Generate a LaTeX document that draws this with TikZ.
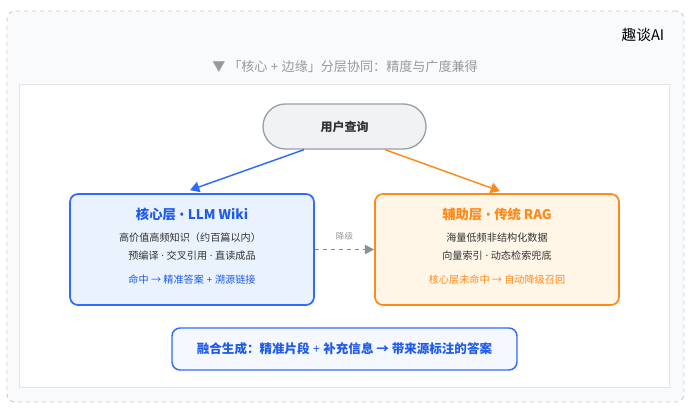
\documentclass[tikz,border=0pt]{standalone}
\usepackage{fontspec}
\setmainfont{Noto Sans CJK SC}
\newfontfamily\lat{Noto Sans}
\usetikzlibrary{arrows.meta,calc}
\definecolor{cblue}{HTML}{2F6BFF}
\definecolor{cbluet}{HTML}{1E5BEB}
\definecolor{corange}{HTML}{FF8A1A}
\definecolor{cbluefill}{HTML}{EAF2FE}
\definecolor{corfill}{HTML}{FFF6E8}
\definecolor{cbotfill}{HTML}{F5F8FF}
\definecolor{cpill}{HTML}{F1F2F4}
\definecolor{cpillb}{HTML}{9AA0A8}
\definecolor{cdark}{HTML}{333333}
\definecolor{cgray}{HTML}{999999}
\definecolor{cbg}{HTML}{F9FAFB}
\definecolor{cdash}{HTML}{C8C8C8}
\definecolor{cinner}{HTML}{E2E4E8}
\definecolor{carrow}{HTML}{8A909A}
\newcommand\pdot{{\lat\ ·\ }}
\newcommand\pplus{{\lat\ +\ }}
\newcommand\tbul{{\lat\bfseries\ •\ }}
\tikzset{
  layerbox/.style={draw, line width=1.3pt, rounded corners=6pt, inner sep=0pt},
  titletxt/.style={font=\fontsize{10}{11}\selectfont\bfseries},
  bodytxt/.style={font=\fontsize{7.6}{9}\selectfont, text=cdark},
  hittxt/.style={font=\fontsize{7.6}{9}\selectfont},
  conn/.style={line width=1.1pt, -{Triangle[length=7pt,width=8pt]}},
}
\begin{document}
\begin{tikzpicture}[x=0.75pt,y=-0.75pt]
\useasboundingbox (0,0) rectangle (690,409);
% outer panel
\node[draw=cdash, dashed, fill=cbg, rounded corners=6pt, line width=0.6pt,
  minimum width=507.75pt, minimum height=293.25pt, inner sep=0pt] (panel) at (345.5,206.5) {};
\node[anchor=east, font=\fontsize{11}{12}\selectfont, text=black] (brand) at (669,35) {趣谈AI};
\node[font=\fontsize{9.8}{11}\selectfont, text=cgray] (subtitle) at (345,67) {▼ 「核心\pplus 边缘」分层协同：精度与广度兼得};
% inner area
\node[draw=cinner, fill=white, line width=0.7pt, minimum width=487.5pt, minimum height=227.25pt, inner sep=0pt] (inner) at (344,235.5) {};
% user query pill
\node[draw=cpillb, fill=cpill, line width=1pt, rounded corners=16.8pt,
  minimum width=122.25pt, minimum height=33.75pt, inner sep=0pt,
  font=\fontsize{9}{10}\selectfont\bfseries, text=cdark] (query) at (344.5,126.5) {用户查询};
% core layer
\node[layerbox, draw=cblue, fill=cbluefill, minimum width=183pt, minimum height=83.25pt] (core) at (192,249.5) {};
\node[titletxt, text=cbluet] (coret) at (192,214) {核心层\tbul LLM Wiki};
\node[bodytxt] (corel1) at (190,237.5) {高价值高频知识（约百篇以内）};
\node[bodytxt] (corel2) at (192,256) {预编译\pdot 交叉引用\pdot 直读成品};
\node[hittxt, text=cbluet] (coreh) at (192,279.5) {命中 → 精准答案\pplus 溯源链接};
% rag layer
\node[layerbox, draw=corange, fill=corfill, minimum width=183pt, minimum height=83.25pt] (rag) at (497,249.5) {};
\node[titletxt, text=corange] (ragt) at (497,214) {辅助层\tbul 传统 RAG};
\node[bodytxt] (ragl1) at (497,238) {海量低频非结构化数据};
\node[bodytxt] (ragl2) at (497,256) {向量索引\pdot 动态检索兜底};
\node[hittxt, text=corange] (ragh) at (497,279.5) {核心层未命中 → 自动降级召回};
% fusion
\node[draw=cblue, fill=cbotfill, line width=1.1pt, rounded corners=6pt,
  minimum width=258.75pt, minimum height=31.5pt, inner sep=0pt,
  font=\fontsize{9.4}{11}\selectfont\bfseries, text=cbluet] (fuse) at (344.5,349) {融合生成：精准片段{\lat\bfseries\ +\ }补充信息 → 带来源标注的答案};
% connectors
\coordinate (qa) at ($(query.south)+(-40.5,0)$);
\coordinate (qb) at ($(query.south)+(40.5,0)$);
\coordinate (ca) at ($(core.north)+(-2,-3)$);
\coordinate (ra) at ($(rag.north)+(3,-2)$);
\draw[conn, cblue] (qa) -- (ca);
\draw[conn, corange] (qb) -- (ra);
\draw[carrow, line width=0.9pt, dashed, -{Triangle[length=7pt,width=7pt]}] (core.east) -- node[above=3pt, font=\fontsize{6.4}{8}\selectfont, text=cgray] (lbl) {降级} (rag.west);
\end{tikzpicture}
\end{document}
